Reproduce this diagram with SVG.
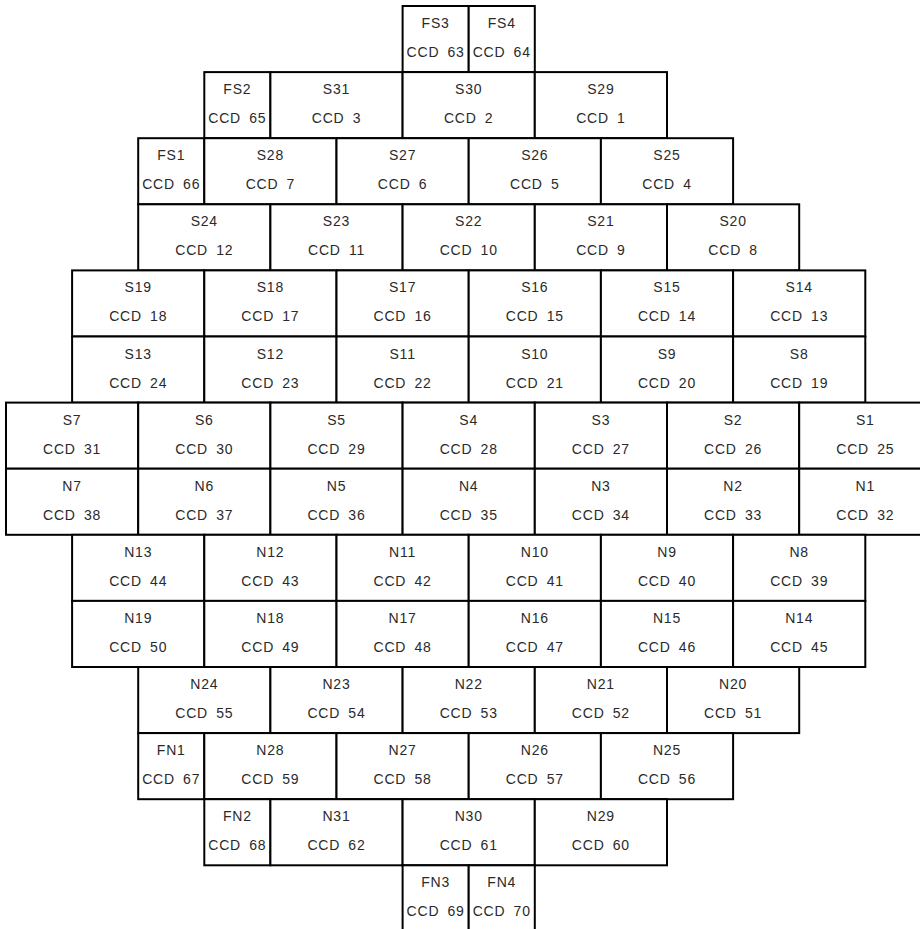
<svg xmlns="http://www.w3.org/2000/svg" width="920" height="929" viewBox="0 0 920 929">
<style>
rect{fill:#fff;stroke:#000;stroke-width:2}
text{font-family:"Liberation Sans",Arial,sans-serif;font-size:14px;fill:#2a2a2a;text-anchor:middle;letter-spacing:0.8px;word-spacing:3.5px}
</style>
<rect x="0" y="0" width="920" height="929" style="stroke:none"/>
<g id="r0">
<g id="FS3"><rect x="402.6" y="6" width="66.1" height="66.1"/><text x="435.65" y="28">FS3</text><text x="435.65" y="57">CCD 63</text></g>
<g id="FS4"><rect x="468.7" y="6" width="66.1" height="66.1"/><text x="501.75" y="28">FS4</text><text x="501.75" y="57">CCD 64</text></g>
</g>
<g id="r1">
<g id="FS2"><rect x="204.3" y="72.1" width="66.1" height="66.1"/><text x="237.35" y="94.1">FS2</text><text x="237.35" y="123.1">CCD 65</text></g>
<g id="S31"><rect x="270.4" y="72.1" width="132.2" height="66.1"/><text x="336.5" y="94.1">S31</text><text x="336.5" y="123.1">CCD 3</text></g>
<g id="S30"><rect x="402.6" y="72.1" width="132.2" height="66.1"/><text x="468.7" y="94.1">S30</text><text x="468.7" y="123.1">CCD 2</text></g>
<g id="S29"><rect x="534.8" y="72.1" width="132.2" height="66.1"/><text x="600.9" y="94.1">S29</text><text x="600.9" y="123.1">CCD 1</text></g>
</g>
<g id="r2">
<g id="FS1"><rect x="138.2" y="138.2" width="66.1" height="66.1"/><text x="171.25" y="160.2">FS1</text><text x="171.25" y="189.2">CCD 66</text></g>
<g id="S28"><rect x="204.3" y="138.2" width="132.2" height="66.1"/><text x="270.4" y="160.2">S28</text><text x="270.4" y="189.2">CCD 7</text></g>
<g id="S27"><rect x="336.5" y="138.2" width="132.2" height="66.1"/><text x="402.6" y="160.2">S27</text><text x="402.6" y="189.2">CCD 6</text></g>
<g id="S26"><rect x="468.7" y="138.2" width="132.2" height="66.1"/><text x="534.8" y="160.2">S26</text><text x="534.8" y="189.2">CCD 5</text></g>
<g id="S25"><rect x="600.9" y="138.2" width="132.2" height="66.1"/><text x="667" y="160.2">S25</text><text x="667" y="189.2">CCD 4</text></g>
</g>
<g id="r3">
<g id="S24"><rect x="138.2" y="204.3" width="132.2" height="66.1"/><text x="204.3" y="226.3">S24</text><text x="204.3" y="255.3">CCD 12</text></g>
<g id="S23"><rect x="270.4" y="204.3" width="132.2" height="66.1"/><text x="336.5" y="226.3">S23</text><text x="336.5" y="255.3">CCD 11</text></g>
<g id="S22"><rect x="402.6" y="204.3" width="132.2" height="66.1"/><text x="468.7" y="226.3">S22</text><text x="468.7" y="255.3">CCD 10</text></g>
<g id="S21"><rect x="534.8" y="204.3" width="132.2" height="66.1"/><text x="600.9" y="226.3">S21</text><text x="600.9" y="255.3">CCD 9</text></g>
<g id="S20"><rect x="667" y="204.3" width="132.2" height="66.1"/><text x="733.1" y="226.3">S20</text><text x="733.1" y="255.3">CCD 8</text></g>
</g>
<g id="r4">
<g id="S19"><rect x="72.1" y="270.4" width="132.2" height="66.1"/><text x="138.2" y="292.4">S19</text><text x="138.2" y="321.4">CCD 18</text></g>
<g id="S18"><rect x="204.3" y="270.4" width="132.2" height="66.1"/><text x="270.4" y="292.4">S18</text><text x="270.4" y="321.4">CCD 17</text></g>
<g id="S17"><rect x="336.5" y="270.4" width="132.2" height="66.1"/><text x="402.6" y="292.4">S17</text><text x="402.6" y="321.4">CCD 16</text></g>
<g id="S16"><rect x="468.7" y="270.4" width="132.2" height="66.1"/><text x="534.8" y="292.4">S16</text><text x="534.8" y="321.4">CCD 15</text></g>
<g id="S15"><rect x="600.9" y="270.4" width="132.2" height="66.1"/><text x="667" y="292.4">S15</text><text x="667" y="321.4">CCD 14</text></g>
<g id="S14"><rect x="733.1" y="270.4" width="132.2" height="66.1"/><text x="799.2" y="292.4">S14</text><text x="799.2" y="321.4">CCD 13</text></g>
</g>
<g id="r5">
<g id="S13"><rect x="72.1" y="336.5" width="132.2" height="66.1"/><text x="138.2" y="358.5">S13</text><text x="138.2" y="387.5">CCD 24</text></g>
<g id="S12"><rect x="204.3" y="336.5" width="132.2" height="66.1"/><text x="270.4" y="358.5">S12</text><text x="270.4" y="387.5">CCD 23</text></g>
<g id="S11"><rect x="336.5" y="336.5" width="132.2" height="66.1"/><text x="402.6" y="358.5">S11</text><text x="402.6" y="387.5">CCD 22</text></g>
<g id="S10"><rect x="468.7" y="336.5" width="132.2" height="66.1"/><text x="534.8" y="358.5">S10</text><text x="534.8" y="387.5">CCD 21</text></g>
<g id="S9"><rect x="600.9" y="336.5" width="132.2" height="66.1"/><text x="667" y="358.5">S9</text><text x="667" y="387.5">CCD 20</text></g>
<g id="S8"><rect x="733.1" y="336.5" width="132.2" height="66.1"/><text x="799.2" y="358.5">S8</text><text x="799.2" y="387.5">CCD 19</text></g>
</g>
<g id="r6">
<g id="S7"><rect x="6" y="402.6" width="132.2" height="66.1"/><text x="72.1" y="424.6">S7</text><text x="72.1" y="453.6">CCD 31</text></g>
<g id="S6"><rect x="138.2" y="402.6" width="132.2" height="66.1"/><text x="204.3" y="424.6">S6</text><text x="204.3" y="453.6">CCD 30</text></g>
<g id="S5"><rect x="270.4" y="402.6" width="132.2" height="66.1"/><text x="336.5" y="424.6">S5</text><text x="336.5" y="453.6">CCD 29</text></g>
<g id="S4"><rect x="402.6" y="402.6" width="132.2" height="66.1"/><text x="468.7" y="424.6">S4</text><text x="468.7" y="453.6">CCD 28</text></g>
<g id="S3"><rect x="534.8" y="402.6" width="132.2" height="66.1"/><text x="600.9" y="424.6">S3</text><text x="600.9" y="453.6">CCD 27</text></g>
<g id="S2"><rect x="667" y="402.6" width="132.2" height="66.1"/><text x="733.1" y="424.6">S2</text><text x="733.1" y="453.6">CCD 26</text></g>
<g id="S1"><rect x="799.2" y="402.6" width="132.2" height="66.1"/><text x="865.3" y="424.6">S1</text><text x="865.3" y="453.6">CCD 25</text></g>
</g>
<g id="r7">
<g id="N7"><rect x="6" y="468.7" width="132.2" height="66.1"/><text x="72.1" y="490.7">N7</text><text x="72.1" y="519.7">CCD 38</text></g>
<g id="N6"><rect x="138.2" y="468.7" width="132.2" height="66.1"/><text x="204.3" y="490.7">N6</text><text x="204.3" y="519.7">CCD 37</text></g>
<g id="N5"><rect x="270.4" y="468.7" width="132.2" height="66.1"/><text x="336.5" y="490.7">N5</text><text x="336.5" y="519.7">CCD 36</text></g>
<g id="N4"><rect x="402.6" y="468.7" width="132.2" height="66.1"/><text x="468.7" y="490.7">N4</text><text x="468.7" y="519.7">CCD 35</text></g>
<g id="N3"><rect x="534.8" y="468.7" width="132.2" height="66.1"/><text x="600.9" y="490.7">N3</text><text x="600.9" y="519.7">CCD 34</text></g>
<g id="N2"><rect x="667" y="468.7" width="132.2" height="66.1"/><text x="733.1" y="490.7">N2</text><text x="733.1" y="519.7">CCD 33</text></g>
<g id="N1"><rect x="799.2" y="468.7" width="132.2" height="66.1"/><text x="865.3" y="490.7">N1</text><text x="865.3" y="519.7">CCD 32</text></g>
</g>
<g id="r8">
<g id="N13"><rect x="72.1" y="534.8" width="132.2" height="66.1"/><text x="138.2" y="556.8">N13</text><text x="138.2" y="585.8">CCD 44</text></g>
<g id="N12"><rect x="204.3" y="534.8" width="132.2" height="66.1"/><text x="270.4" y="556.8">N12</text><text x="270.4" y="585.8">CCD 43</text></g>
<g id="N11"><rect x="336.5" y="534.8" width="132.2" height="66.1"/><text x="402.6" y="556.8">N11</text><text x="402.6" y="585.8">CCD 42</text></g>
<g id="N10"><rect x="468.7" y="534.8" width="132.2" height="66.1"/><text x="534.8" y="556.8">N10</text><text x="534.8" y="585.8">CCD 41</text></g>
<g id="N9"><rect x="600.9" y="534.8" width="132.2" height="66.1"/><text x="667" y="556.8">N9</text><text x="667" y="585.8">CCD 40</text></g>
<g id="N8"><rect x="733.1" y="534.8" width="132.2" height="66.1"/><text x="799.2" y="556.8">N8</text><text x="799.2" y="585.8">CCD 39</text></g>
</g>
<g id="r9">
<g id="N19"><rect x="72.1" y="600.9" width="132.2" height="66.1"/><text x="138.2" y="622.9">N19</text><text x="138.2" y="651.9">CCD 50</text></g>
<g id="N18"><rect x="204.3" y="600.9" width="132.2" height="66.1"/><text x="270.4" y="622.9">N18</text><text x="270.4" y="651.9">CCD 49</text></g>
<g id="N17"><rect x="336.5" y="600.9" width="132.2" height="66.1"/><text x="402.6" y="622.9">N17</text><text x="402.6" y="651.9">CCD 48</text></g>
<g id="N16"><rect x="468.7" y="600.9" width="132.2" height="66.1"/><text x="534.8" y="622.9">N16</text><text x="534.8" y="651.9">CCD 47</text></g>
<g id="N15"><rect x="600.9" y="600.9" width="132.2" height="66.1"/><text x="667" y="622.9">N15</text><text x="667" y="651.9">CCD 46</text></g>
<g id="N14"><rect x="733.1" y="600.9" width="132.2" height="66.1"/><text x="799.2" y="622.9">N14</text><text x="799.2" y="651.9">CCD 45</text></g>
</g>
<g id="r10">
<g id="N24"><rect x="138.2" y="667" width="132.2" height="66.1"/><text x="204.3" y="689">N24</text><text x="204.3" y="718">CCD 55</text></g>
<g id="N23"><rect x="270.4" y="667" width="132.2" height="66.1"/><text x="336.5" y="689">N23</text><text x="336.5" y="718">CCD 54</text></g>
<g id="N22"><rect x="402.6" y="667" width="132.2" height="66.1"/><text x="468.7" y="689">N22</text><text x="468.7" y="718">CCD 53</text></g>
<g id="N21"><rect x="534.8" y="667" width="132.2" height="66.1"/><text x="600.9" y="689">N21</text><text x="600.9" y="718">CCD 52</text></g>
<g id="N20"><rect x="667" y="667" width="132.2" height="66.1"/><text x="733.1" y="689">N20</text><text x="733.1" y="718">CCD 51</text></g>
</g>
<g id="r11">
<g id="FN1"><rect x="138.2" y="733.1" width="66.1" height="66.1"/><text x="171.25" y="755.1">FN1</text><text x="171.25" y="784.1">CCD 67</text></g>
<g id="N28"><rect x="204.3" y="733.1" width="132.2" height="66.1"/><text x="270.4" y="755.1">N28</text><text x="270.4" y="784.1">CCD 59</text></g>
<g id="N27"><rect x="336.5" y="733.1" width="132.2" height="66.1"/><text x="402.6" y="755.1">N27</text><text x="402.6" y="784.1">CCD 58</text></g>
<g id="N26"><rect x="468.7" y="733.1" width="132.2" height="66.1"/><text x="534.8" y="755.1">N26</text><text x="534.8" y="784.1">CCD 57</text></g>
<g id="N25"><rect x="600.9" y="733.1" width="132.2" height="66.1"/><text x="667" y="755.1">N25</text><text x="667" y="784.1">CCD 56</text></g>
</g>
<g id="r12">
<g id="FN2"><rect x="204.3" y="799.2" width="66.1" height="66.1"/><text x="237.35" y="821.2">FN2</text><text x="237.35" y="850.2">CCD 68</text></g>
<g id="N31"><rect x="270.4" y="799.2" width="132.2" height="66.1"/><text x="336.5" y="821.2">N31</text><text x="336.5" y="850.2">CCD 62</text></g>
<g id="N30"><rect x="402.6" y="799.2" width="132.2" height="66.1"/><text x="468.7" y="821.2">N30</text><text x="468.7" y="850.2">CCD 61</text></g>
<g id="N29"><rect x="534.8" y="799.2" width="132.2" height="66.1"/><text x="600.9" y="821.2">N29</text><text x="600.9" y="850.2">CCD 60</text></g>
</g>
<g id="r13">
<g id="FN3"><rect x="402.6" y="865.3" width="66.1" height="66.1"/><text x="435.65" y="887.3">FN3</text><text x="435.65" y="916.3">CCD 69</text></g>
<g id="FN4"><rect x="468.7" y="865.3" width="66.1" height="66.1"/><text x="501.75" y="887.3">FN4</text><text x="501.75" y="916.3">CCD 70</text></g>
</g>
</svg>
